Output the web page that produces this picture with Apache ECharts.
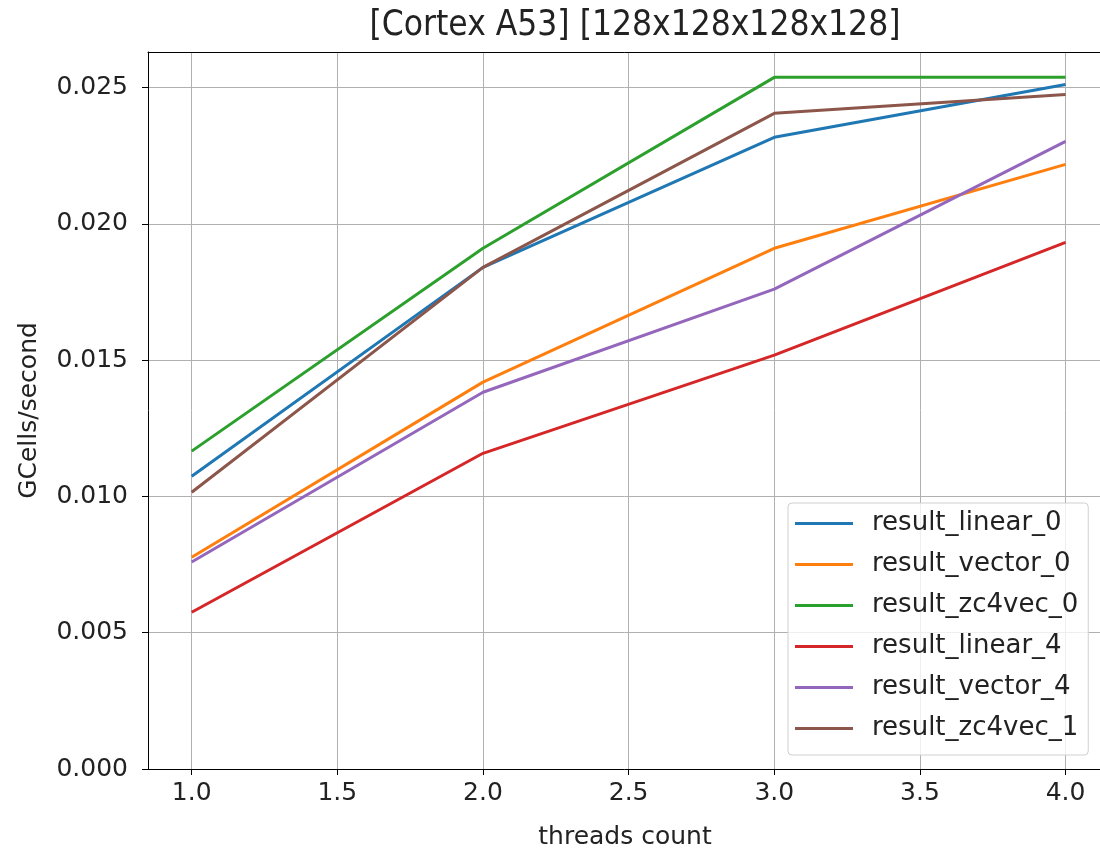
<!DOCTYPE html>
<html lang="en">
<head>
    <meta charset="UTF-8">
    <title>Cortex A53</title>
    <style>
        html, body { margin: 0; padding: 0; background: #fff; }
    </style>
</head>
<body>
<div id="main" style="width: 1100px;height:849px;"></div>
<script src="https://cdn.jsdelivr.net/npm/echarts@6/dist/echarts.min.js"></script>
<script type="text/javascript">
    // threads count on x, GCells/second on y
    var threads = [1.0, 2.0, 3.0, 4.0];
    var xTicks = [1.0, 1.5, 2.0, 2.5, 3.0, 3.5, 4.0];

    var seriesNames = ['result_linear_0', 'result_vector_0', 'result_zc4vec_0',
        'result_linear_4', 'result_vector_4', 'result_zc4vec_1'];
    var linear0 = [0.01074, 0.01840, 0.02317, 0.02511];
    var vector0 = [0.00777, 0.01419, 0.01910, 0.02218];
    var zc4vec0 = [0.01166, 0.01910, 0.02537, 0.02537];
    var linear4 = [0.00575, 0.01158, 0.01518, 0.01932];
    var vector4 = [0.00759, 0.01382, 0.01760, 0.02302];
    var zc4vec1 = [0.01015, 0.01840, 0.02405, 0.02474];
    var values = [linear0, vector0, zc4vec0, linear4, vector4, zc4vec1];
    var colors = ['#1f77b4', '#ff7f0e', '#2ca02c', '#d62728', '#9467bd', '#8c564b'];

    var font = 'DejaVu Sans';

    var myChart = echarts.init(document.getElementById('main'));
    var option = {
        backgroundColor: '#fff',
        animation: false,
        color: colors,
        title: {
            text: '[Cortex A53] [128x128x128x128]',
            left: 630,
            textAlign: 'center',
            top: 3,
            textStyle: {
                fontFamily: 'DejaVu Sans Condensed, DejaVu Sans',
                fontWeight: 'normal',
                fontSize: 35,
                color: '#222'
            }
        },
        legend: {
            orient: 'vertical',
            left: 788,
            top: 503,
            icon: 'rect',
            itemWidth: 58,
            itemHeight: 3,
            itemGap: 0,
            padding: [0, 10, 6, 7],
            backgroundColor: 'rgba(255,255,255,0.8)',
            borderColor: '#d0d0d0',
            borderWidth: 1,
            borderRadius: 4,
            textStyle: {
                fontFamily: font,
                fontSize: 26,
                lineHeight: 41,
                color: '#222',
                padding: [0, 0, 0, 14]
            },
            data: seriesNames
        },
        grid: {
            left: 148,
            top: 52,
            right: -2,
            height: 717,
            show: false,
            containLabel: false,
            outerBoundsMode: 'none'
        },
        xAxis: [{
            type: 'value',
            min: 0.85,
            max: 4.125,
            name: 'threads count',
            nameLocation: 'middle',
            nameGap: 56,
            nameTextStyle: { fontFamily: font, fontSize: 25, color: '#222' },
            axisLine: { show: true, lineStyle: { color: '#000', width: 1 } },
            axisTick: { show: true, length: 6, customValues: xTicks, lineStyle: { color: '#000' } },
            axisLabel: {
                customValues: xTicks,
                margin: 12,
                fontFamily: font,
                fontSize: 25,
                color: '#222',
                formatter: function (v) { return v.toFixed(1); }
            },
            splitLine: { show: true, lineStyle: { color: '#b0b0b0', width: 1 } }
        }, {
            // top spine only
            type: 'value',
            position: 'top',
            min: 0.85,
            max: 4.125,
            axisLine: { show: true, lineStyle: { color: '#000', width: 1 } },
            axisTick: { show: false },
            axisLabel: { show: false },
            splitLine: { show: false }
        }],
        yAxis: {
            type: 'value',
            min: 0,
            max: 0.0263,
            interval: 0.005,
            name: 'GCells/second',
            nameLocation: 'middle',
            nameGap: 106,
            nameTextStyle: { fontFamily: font, fontSize: 25, color: '#222' },
            axisLine: { show: true, lineStyle: { color: '#000', width: 1 } },
            axisTick: { show: true, length: 6, lineStyle: { color: '#000' } },
            axisLabel: {
                margin: 20,
                fontFamily: font,
                fontSize: 25,
                color: '#222',
                showMaxLabel: false,
                formatter: function (v) { return v.toFixed(3); }
            },
            splitLine: { show: true, lineStyle: { color: '#b0b0b0', width: 1 } }
        },
        series: seriesNames.map(function (name, i) {
            return {
                name: name,
                type: 'line',
                data: threads.map(function (t, j) { return [t, values[i][j]]; }),
                showSymbol: false,
                lineStyle: { width: 3, color: colors[i] },
                itemStyle: { color: colors[i] },
                z: 2 + i
            };
        })
    };
    myChart.setOption(option);
</script>
</body>
</html>
